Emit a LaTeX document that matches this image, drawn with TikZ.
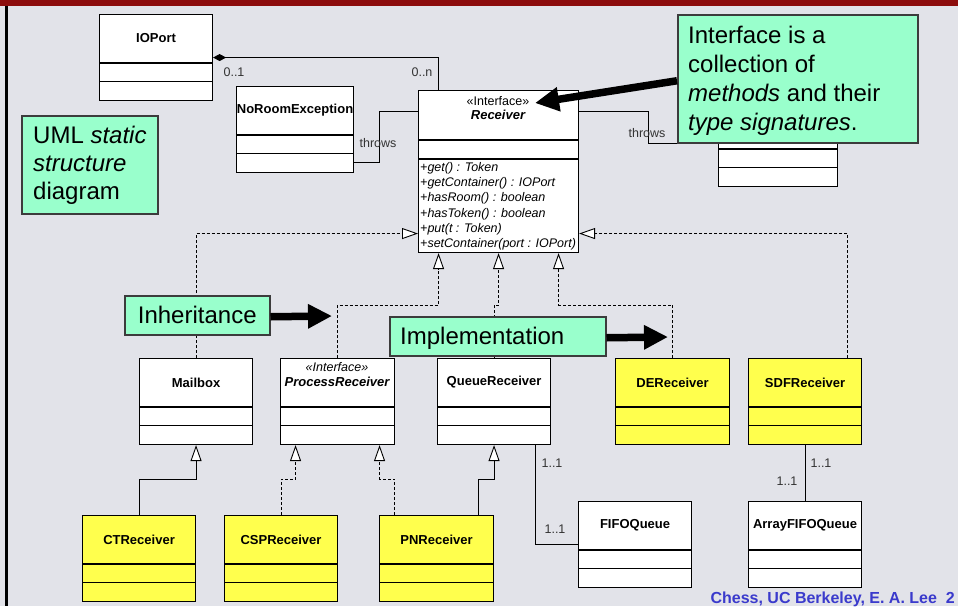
\documentclass[tikz,border=0pt]{standalone}
\usepackage{fontspec}
\setmainfont{Liberation Sans}
\usetikzlibrary{arrows.meta}
\definecolor{bg}{RGB}{226,227,233}
\definecolor{topbar}{RGB}{140,12,12}
\definecolor{note}{RGB}{153,255,204}
\definecolor{notedraw}{RGB}{60,60,60}
\definecolor{ylw}{RGB}{255,255,77}
\definecolor{footblue}{RGB}{58,58,204}
\definecolor{lbl}{RGB}{51,51,51}
\tikzset{
  classbox/.style={draw=black, line width=1.1pt, anchor=north west, inner sep=0pt, minimum height=86pt},
  clsname/.style={font=\bfseries\fontsize{13}{15}\selectfont, inner sep=0pt},
  stereo/.style={font=\fontsize{12.5}{14}\selectfont, inner sep=0pt},
  method/.style={font=\itshape\fontsize{12.5}{14}\selectfont, inner sep=0pt, anchor=base west},
  mult/.style={font=\fontsize{12.5}{14}\selectfont, text=lbl, inner sep=0pt},
  conn/.style={line width=0.9pt, draw=black},
  implarrow/.style={conn, dash pattern=on 3pt off 2pt, -{Triangle[length=16pt,width=11pt,fill=white]}},
  inharrow/.style={conn, -{Triangle[length=16pt,width=11pt,fill=white]}},
  notebox/.style={draw=notedraw, line width=1.5pt, fill=note, anchor=north west, inner sep=0pt},
  notetext/.style={font=\fontsize{24}{28}\selectfont, inner sep=0pt, anchor=base west},
  bigarrow/.style={line width=7.5pt, -{Triangle[length=24pt,width=23pt]}},
}
\newcommand{\umlclass}[6]{%
  \node[classbox, fill=#5, minimum width=#4] (#1) at (#2,#3) {};
  \draw[line width=1.1pt] ([yshift=-49pt]#1.north west) -- ([yshift=-49pt]#1.north east);
  \draw[line width=1.1pt] ([yshift=-67.5pt]#1.north west) -- ([yshift=-67.5pt]#1.north east);
  \node[clsname] (#1t) at ([yshift=-24.5pt]#1.north) {#6};
}
\begin{document}
\begin{tikzpicture}[x=1pt,y=-1pt]
\useasboundingbox (0,0) rectangle (958,606);
\fill[bg] (0,0) rectangle (958,606);
\fill[topbar] (0,0) rectangle (958,6);
\fill[black] (5,6) rectangle (7.5,606);

% ---- classes ----
\umlclass{ioport}{99}{14}{113pt}{white}{IOPort}
\umlclass{noroom}{236}{86}{117pt}{white}{NoRoomException}
\umlclass{notoken}{718}{100}{119pt}{white}{}

\node[classbox, fill=white, minimum width=160pt, minimum height=162pt] (receiver) at (418,90) {};
\draw[line width=1.1pt] ([yshift=-50pt]receiver.north west) -- ([yshift=-50pt]receiver.north east);
\draw[line width=1.1pt] ([yshift=-69pt]receiver.north west) -- ([yshift=-69pt]receiver.north east);
\node[stereo] (receiverst) at (498,101) {«Interface»};
\node[clsname, font=\bfseries\itshape\fontsize{13}{15}\selectfont] (receivert) at (498,115) {Receiver};
\node[method] (m1) at (420,171) {+get() : Token};
\node[method] (m2) at (420,186) {+getContainer() : IOPort};
\node[method] (m3) at (420,201.5) {+hasRoom() : boolean};
\node[method] (m4) at (420,217) {+hasToken() : boolean};
\node[method] (m5) at (420,232) {+put(t : Token)};
\node[method] (m6) at (420,247.5) {+setContainer(port : IOPort)};

\umlclass{mailbox}{139}{358}{113pt}{white}{Mailbox}
\umlclass{preceiver}{280}{358}{114pt}{white}{}
\node[stereo, font=\itshape\fontsize{12.5}{14}\selectfont] (preceiverst) at (337,367) {«Interface»};
\node[clsname, font=\bfseries\itshape\fontsize{13}{15}\selectfont] (preceivern) at (337,382) {ProcessReceiver};
\umlclass{queue}{437}{358}{113pt}{white}{QueueReceiver}
\umlclass{de}{615}{358}{114pt}{ylw}{DEReceiver}
\umlclass{sdf}{748}{358}{113pt}{ylw}{SDFReceiver}
\umlclass{ct}{82}{515}{113pt}{ylw}{CTReceiver}
\umlclass{csp}{224}{515}{113pt}{ylw}{CSPReceiver}
\umlclass{pn}{379}{515}{114pt}{ylw}{PNReceiver}
\umlclass{fifo}{578}{501}{113pt}{white}{FIFOQueue}
\umlclass{afifo}{748}{501}{113pt}{white}{ArrayFIFOQueue}

% ---- connectors ----
\draw[conn, {Diamond[length=13pt,width=7pt]}-] (ioport.east) -| ([xshift=-60pt]receiver.north);
\draw[conn] ([yshift=-32.5pt]noroom.east) -- ++(25,0) |- ([yshift=60pt]receiver.west);
\draw[conn] ([yshift=60pt]receiver.east) -- ++(69,0) |- (notoken.west);

\draw[implarrow] (mailbox.north) |- ([yshift=-62pt]receiver.west);
\draw[implarrow] ([xshift=42.5pt]sdf.north) |- ([yshift=-62pt]receiver.east);
\draw[implarrow] (preceiver.north) -- ++(0,-53) -| ([xshift=-60pt]receiver.south);
\draw[implarrow] (queue.north) -- ++(0,-53) -| (receiver.south);
\draw[implarrow] (de.north) -- ++(0,-53) -| ([xshift=60pt]receiver.south);

\draw[inharrow] (ct.north) -- ++(0,-36) -| (mailbox.south);
\draw[implarrow] (csp.north) -- ++(0,-36) -| ([xshift=-42pt]preceiver.south);
\draw[implarrow] ([xshift=-42pt]pn.north) -- ++(0,-36) -| ([xshift=42pt]preceiver.south);
\draw[inharrow] ([xshift=42pt]pn.north) -- ++(0,-36) -| (queue.south);
\draw[conn] ([xshift=41.5pt]queue.south) |- (fifo.west);
\draw[conn] (sdf.south) -- (afifo.north);

% ---- labels ----
\node[mult] (l01) at (234,72) {0..1};
\node[mult] (l0n) at (422,72) {0..n};
\node[mult] (thr1) at (378,143) {throws};
\node[mult] (thr2) at (647,133) {throws};
\node[mult] (q11a) at (552,463) {1..1};
\node[mult] (q11b) at (555,529) {1..1};
\node[mult] (s11a) at (821,463) {1..1};
\node[mult] (s11b) at (787,481) {1..1};

% ---- callouts ----
\node[notebox, minimum width=136pt, minimum height=98pt] (umlnote) at (21,115) {};
\node[notetext] (umlt1) at (33,143) {UML \textit{static}};
\node[notetext] (umlt2) at (33,171) {\textit{structure}};
\node[notetext] (umlt3) at (33,199) {diagram};

\node[notebox, minimum width=240pt, minimum height=128pt] (ifacenote) at (677,14) {};
\node[notetext] (ift1) at (688,43) {Interface is a};
\node[notetext] (ift2) at (688,72) {collection of};
\node[notetext] (ift3) at (688,101) {\textit{methods} and their};
\node[notetext] (ift4) at (688,130) {\textit{type signatures}.};
\coordinate (ifacetip) at (535,103);
\draw[bigarrow] ([yshift=-2pt]ifacenote.west) -- (ifacetip);

\node[notebox, minimum width=145pt, minimum height=39pt] (inhnote) at (124,295) {};
\node[font=\fontsize{24}{28}\selectfont, inner sep=0pt] (inht) at (inhnote.center) {Inheritance};
\coordinate (inhtip) at (332,316);
\draw[bigarrow] ([yshift=-1.5pt]inhnote.east) -- (inhtip);

\node[notebox, minimum width=216pt, minimum height=39pt] (implnote) at (389,316) {};
\node[notetext] (implt) at (400,344) {Implementation};
\coordinate (impltip) at (668,337);
\draw[bigarrow] ([yshift=-1.5pt]implnote.east) -- (impltip);

% ---- footer ----
\node[anchor=base east, font=\bfseries\fontsize{16}{18}\selectfont, text=footblue, inner sep=0pt] (footer) at (955,603) {Chess, UC Berkeley, E. A. Lee\ \ 2};
\end{tikzpicture}
\end{document}
